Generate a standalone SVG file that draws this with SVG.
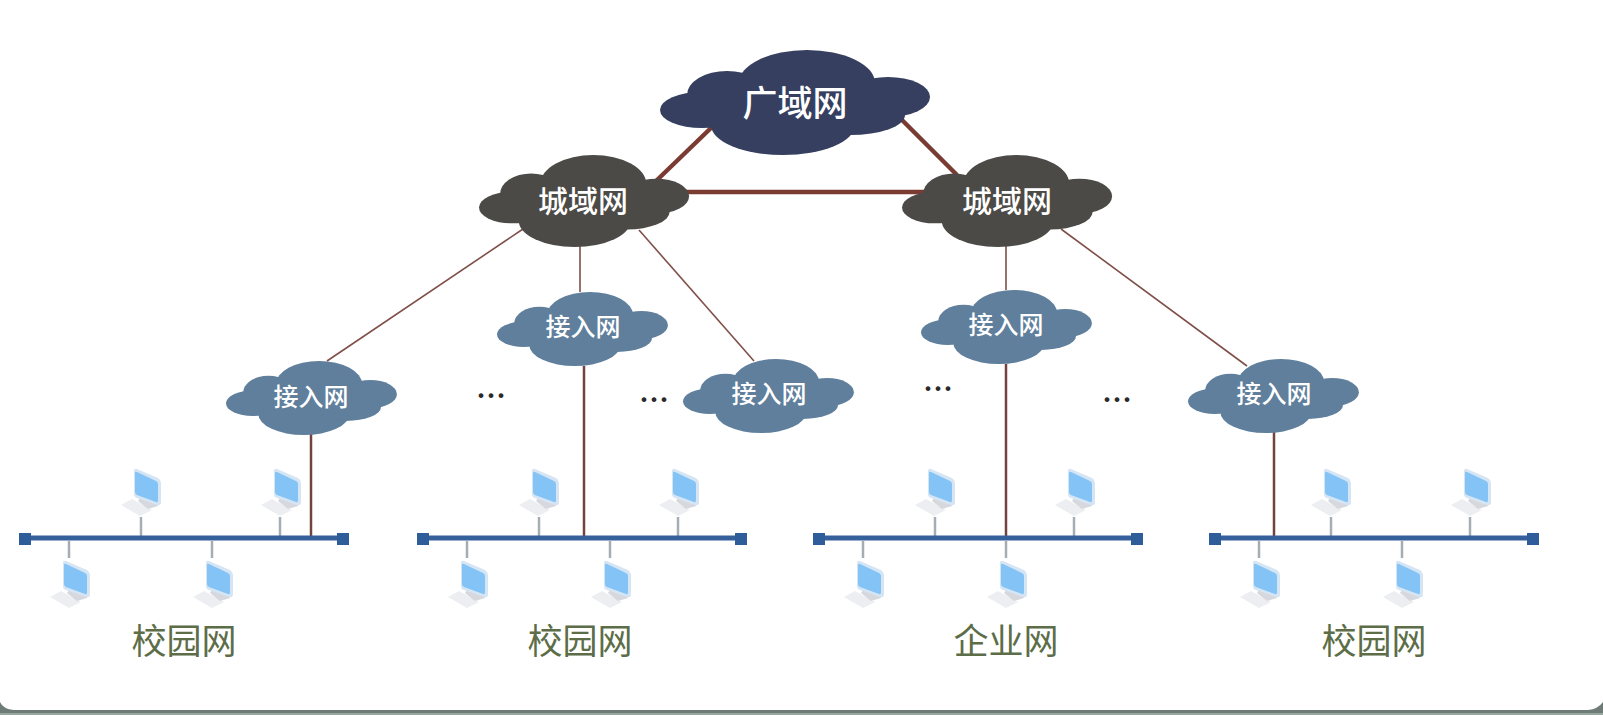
<svg xmlns="http://www.w3.org/2000/svg" xmlns:xlink="http://www.w3.org/1999/xlink" width="1603" height="715" viewBox="0 0 1603 715">
<style>
text{font-family:"Noto Sans CJK SC","Noto Sans",sans-serif;text-anchor:middle;dominant-baseline:central}
.w{fill:#fff;font-weight:500}
.wan{fill:#363f5f}.man{fill:#4b4a46}.acc{fill:#5f7f9c}
.thick{stroke:#7a3b33;stroke-width:4.5;fill:none}
.thin{stroke:#7f4f48;stroke-width:1.6;fill:none}
.mid{stroke:#74433f;stroke-width:2.5;fill:none}
.bus{stroke:#35609c;stroke-width:5}
.busend{fill:#2f5d9a}
.stem{stroke:#a4acb4;stroke-width:2.5}
.lab{fill:#5c6d48;font-size:35px}
.dots{fill:#2a2a2a;font-size:40px;font-family:"Liberation Serif",serif;dominant-baseline:auto}
</style>
<defs>
<g id="cloud">
<ellipse cx="147" cy="33" rx="68" ry="33"/>
<ellipse cx="123" cy="75" rx="72" ry="30"/>
<ellipse cx="67" cy="45" rx="40" ry="24"/>
<ellipse cx="42" cy="60" rx="42" ry="18"/>
<ellipse cx="228" cy="47" rx="42" ry="20"/>
<ellipse cx="190" cy="65" rx="55" ry="20"/>
<rect x="60" y="35" width="150" height="45"/>
</g>
<g id="pc">
<path d="M-19-12-8-18 12-7 0-1Z" fill="#eceef1"/>
<path d="M-2-16 2-22H16L18-11 8-8Z" fill="#d6d8de"/>
<path d="M-6-46Q-6-49-3-48L18-39Q21-37 21-34V-15Q21-11 17-12L-3-19Q-6-20-6-23Z" fill="#d5e5f4"/>
<path d="M-5-44Q-5-46-3-45L16-36Q18-35 18-33V-17Q18-14 16-15L-3-22Q-5-23-5-25Z" fill="#83c3f6"/>
</g>
<g id="lan">
<line class="stem" x1="141" y1="517" x2="141" y2="536"/>
<line class="stem" x1="280" y1="517" x2="280" y2="536"/>
<line class="stem" x1="69" y1="541" x2="69" y2="558"/>
<line class="stem" x1="212" y1="541" x2="212" y2="558"/>
<line class="bus" x1="25" y1="538" x2="343" y2="538"/>
<rect class="busend" x="19" y="533" width="12" height="12"/>
<rect class="busend" x="337" y="533" width="12" height="12"/>
<use xlink:href="#pc" href="#pc" x="140" y="517"/>
<use xlink:href="#pc" href="#pc" x="280" y="517"/>
<use xlink:href="#pc" href="#pc" x="69" y="609"/>
<use xlink:href="#pc" href="#pc" x="212" y="609"/>
</g>
</defs>
<rect width="1603" height="715" fill="#fff"/>
<path d="M0 702Q3 709 14 710H1588Q1598 709 1603 702V715H0Z" fill="#6f7b76"/>
<rect y="713" width="1603" height="2" fill="#9aa8a2"/>
<g id="connectors">
<line class="thick" x1="712" y1="127" x2="655" y2="182"/>
<line class="thick" x1="902" y1="120" x2="957" y2="175"/>
<line class="thick" x1="680" y1="192" x2="930" y2="192"/>
<line class="thin" x1="523" y1="229" x2="327" y2="361"/>
<line class="thin" x1="580" y1="245" x2="580" y2="292"/>
<line class="thin" x1="639" y1="230" x2="754" y2="361"/>
<line class="thin" x1="1006" y1="245" x2="1006" y2="290"/>
<line class="thin" x1="1061" y1="229" x2="1247" y2="366"/>
<line class="mid" x1="311" y1="433" x2="311" y2="536"/>
<line class="mid" x1="584" y1="366" x2="584" y2="536"/>
<line class="mid" x1="1006" y1="364" x2="1006" y2="536"/>
<line class="mid" x1="1274" y1="431" x2="1274" y2="536"/>
</g>
<g id="wan"><use xlink:href="#cloud" href="#cloud" class="wan" transform="translate(660 50)"/><text class="w" x="795" y="100" font-size="35">广域网</text></g>
<g id="man1"><use xlink:href="#cloud" href="#cloud" class="man" transform="translate(479 155) scale(.778 .876)"/><text class="w" x="583" y="199" font-size="30">城域网</text></g>
<g id="man2"><use xlink:href="#cloud" href="#cloud" class="man" transform="translate(902 155) scale(.778 .876)"/><text class="w" x="1007" y="199" font-size="30">城域网</text></g>
<g id="acc1"><use xlink:href="#cloud" href="#cloud" class="acc" transform="translate(226 361) scale(.633 .705)"/><text class="w" x="311" y="395" font-size="25">接入网</text></g>
<g id="acc2"><use xlink:href="#cloud" href="#cloud" class="acc" transform="translate(497 292) scale(.633 .705)"/><text class="w" x="583" y="325" font-size="25">接入网</text></g>
<g id="acc3"><use xlink:href="#cloud" href="#cloud" class="acc" transform="translate(683 359) scale(.633 .705)"/><text class="w" x="769" y="392" font-size="25">接入网</text></g>
<g id="acc4"><use xlink:href="#cloud" href="#cloud" class="acc" transform="translate(921 290) scale(.633 .705)"/><text class="w" x="1006" y="323" font-size="25">接入网</text></g>
<g id="acc5"><use xlink:href="#cloud" href="#cloud" class="acc" transform="translate(1188 359) scale(.633 .705)"/><text class="w" x="1274" y="392" font-size="25">接入网</text></g>
<g id="lan1"><use xlink:href="#lan" href="#lan"/></g>
<g id="lan2"><use xlink:href="#lan" href="#lan" x="398"/></g>
<g id="lan3"><use xlink:href="#lan" href="#lan" x="794"/></g>
<g id="lan4"><use xlink:href="#lan" href="#lan" x="1190"/></g>
<text class="lab" x="184" y="638">校园网</text>
<text class="lab" x="580" y="638">校园网</text>
<text class="lab" x="1006" y="638">企业网</text>
<text class="lab" x="1374" y="638">校园网</text>
<text class="dots" x="491" y="398">...</text>
<text class="dots" x="654" y="402">...</text>
<text class="dots" x="938" y="391">...</text>
<text class="dots" x="1117" y="402">...</text>
</svg>
